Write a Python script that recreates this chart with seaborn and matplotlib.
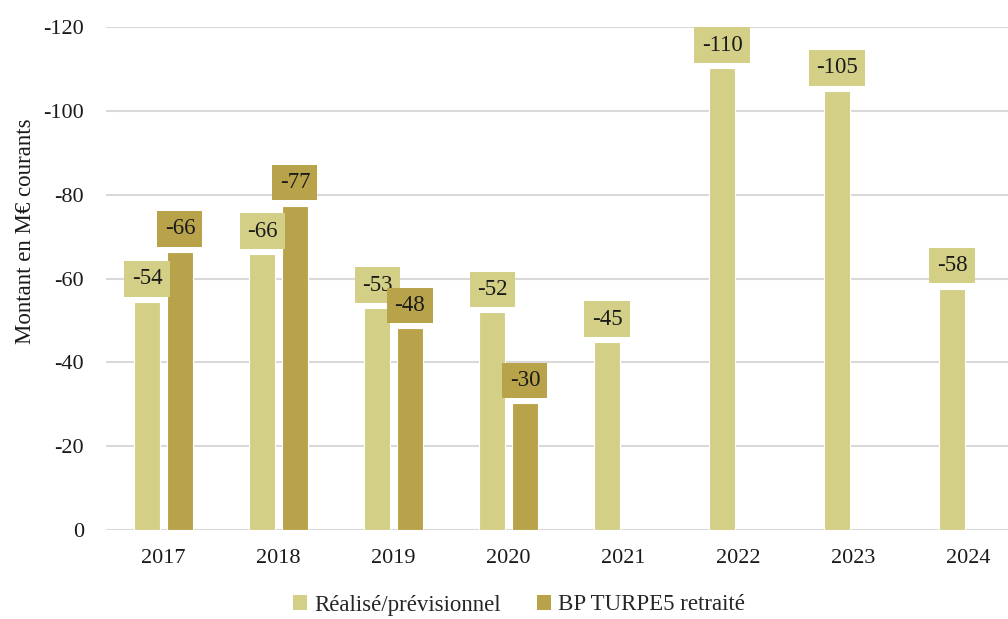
import numpy as np
import pandas as pd
import matplotlib.pyplot as plt
import seaborn as sns

# Données (M€ courants)
annees = ['2017', '2018', '2019', '2020', '2021', '2022', '2023', '2024']
realise = [-54.4, -65.8, -52.9, -51.9, -44.8, -110.2, -104.8, -57.6]
bp_turpe5 = [-66.4, -77.4, -48.1, -30.2, np.nan, np.nan, np.nan, np.nan]
series = ['Réalisé/prévisionnel', 'BP TURPE5 retraité']
couleurs = ['#d4cf86', '#b9a34a']

df = pd.DataFrame({
    'annee': annees * 2,
    'valeur': realise + bp_turpe5,
    'serie': [series[0]] * len(annees) + [series[1]] * len(annees),
})

sns.set_theme(style="white")
plt.rcParams['font.family'] = ['Liberation Serif', 'DejaVu Serif']
plt.rcParams['axes.unicode_minus'] = False

fig = plt.figure(figsize=(10.08, 6.19), dpi=100)
ax = fig.add_axes([106 / 1008, 1 - 530 / 619, 920 / 1008, 503 / 619])

sns.barplot(data=df, x='annee', y='valeur', hue='serie', order=annees,
            hue_order=series, palette=couleurs, width=0.57, gap=0.2,
            edgecolor='white', linewidth=0.8, saturation=1, ax=ax, legend=False)

ax.set_ylim(0, -120)
ax.set_yticks(range(0, -121, -20))
ax.set_xlim(-0.5, len(annees) - 0.5)
ax.grid(axis='y', color='#d9d9d9', linewidth=1.5)
ax.set_axisbelow(True)
for s in ax.spines.values():
    s.set_visible(False)
ax.tick_params(axis='both', length=0, labelsize=16, colors='#1a1a1a')
ax.tick_params(axis='y', pad=16)
ax.tick_params(axis='x', pad=14)
ax.set_xlabel('')
ax.set_ylabel('Montant en M€ courants', fontsize=16.5, color='#1a1a1a')
ax.yaxis.set_label_coords(-0.076, 0.594)

# Étiquettes dans des cartouches de la couleur de la série
for cont, coul in zip(ax.containers, couleurs):
    ax.bar_label(cont, fmt='{:.0f}', padding=9, fontsize=16.5, color='#1a1a1a',
                 bbox=dict(boxstyle='square,pad=0.32', fc=coul, ec='none'))

handles = [plt.Rectangle((0, 0), 1, 1, fc=c, ec='none') for c in couleurs]
fig.legend(handles, series, loc='center', bbox_to_anchor=(0.515, 1 - 605 / 619),
           ncol=2, frameon=False, fontsize=16.5, handlelength=0.6, handleheight=0.6,
           handletextpad=0.3, columnspacing=1.6, borderpad=0.1)

fig.savefig('out.png', dpi=100)
